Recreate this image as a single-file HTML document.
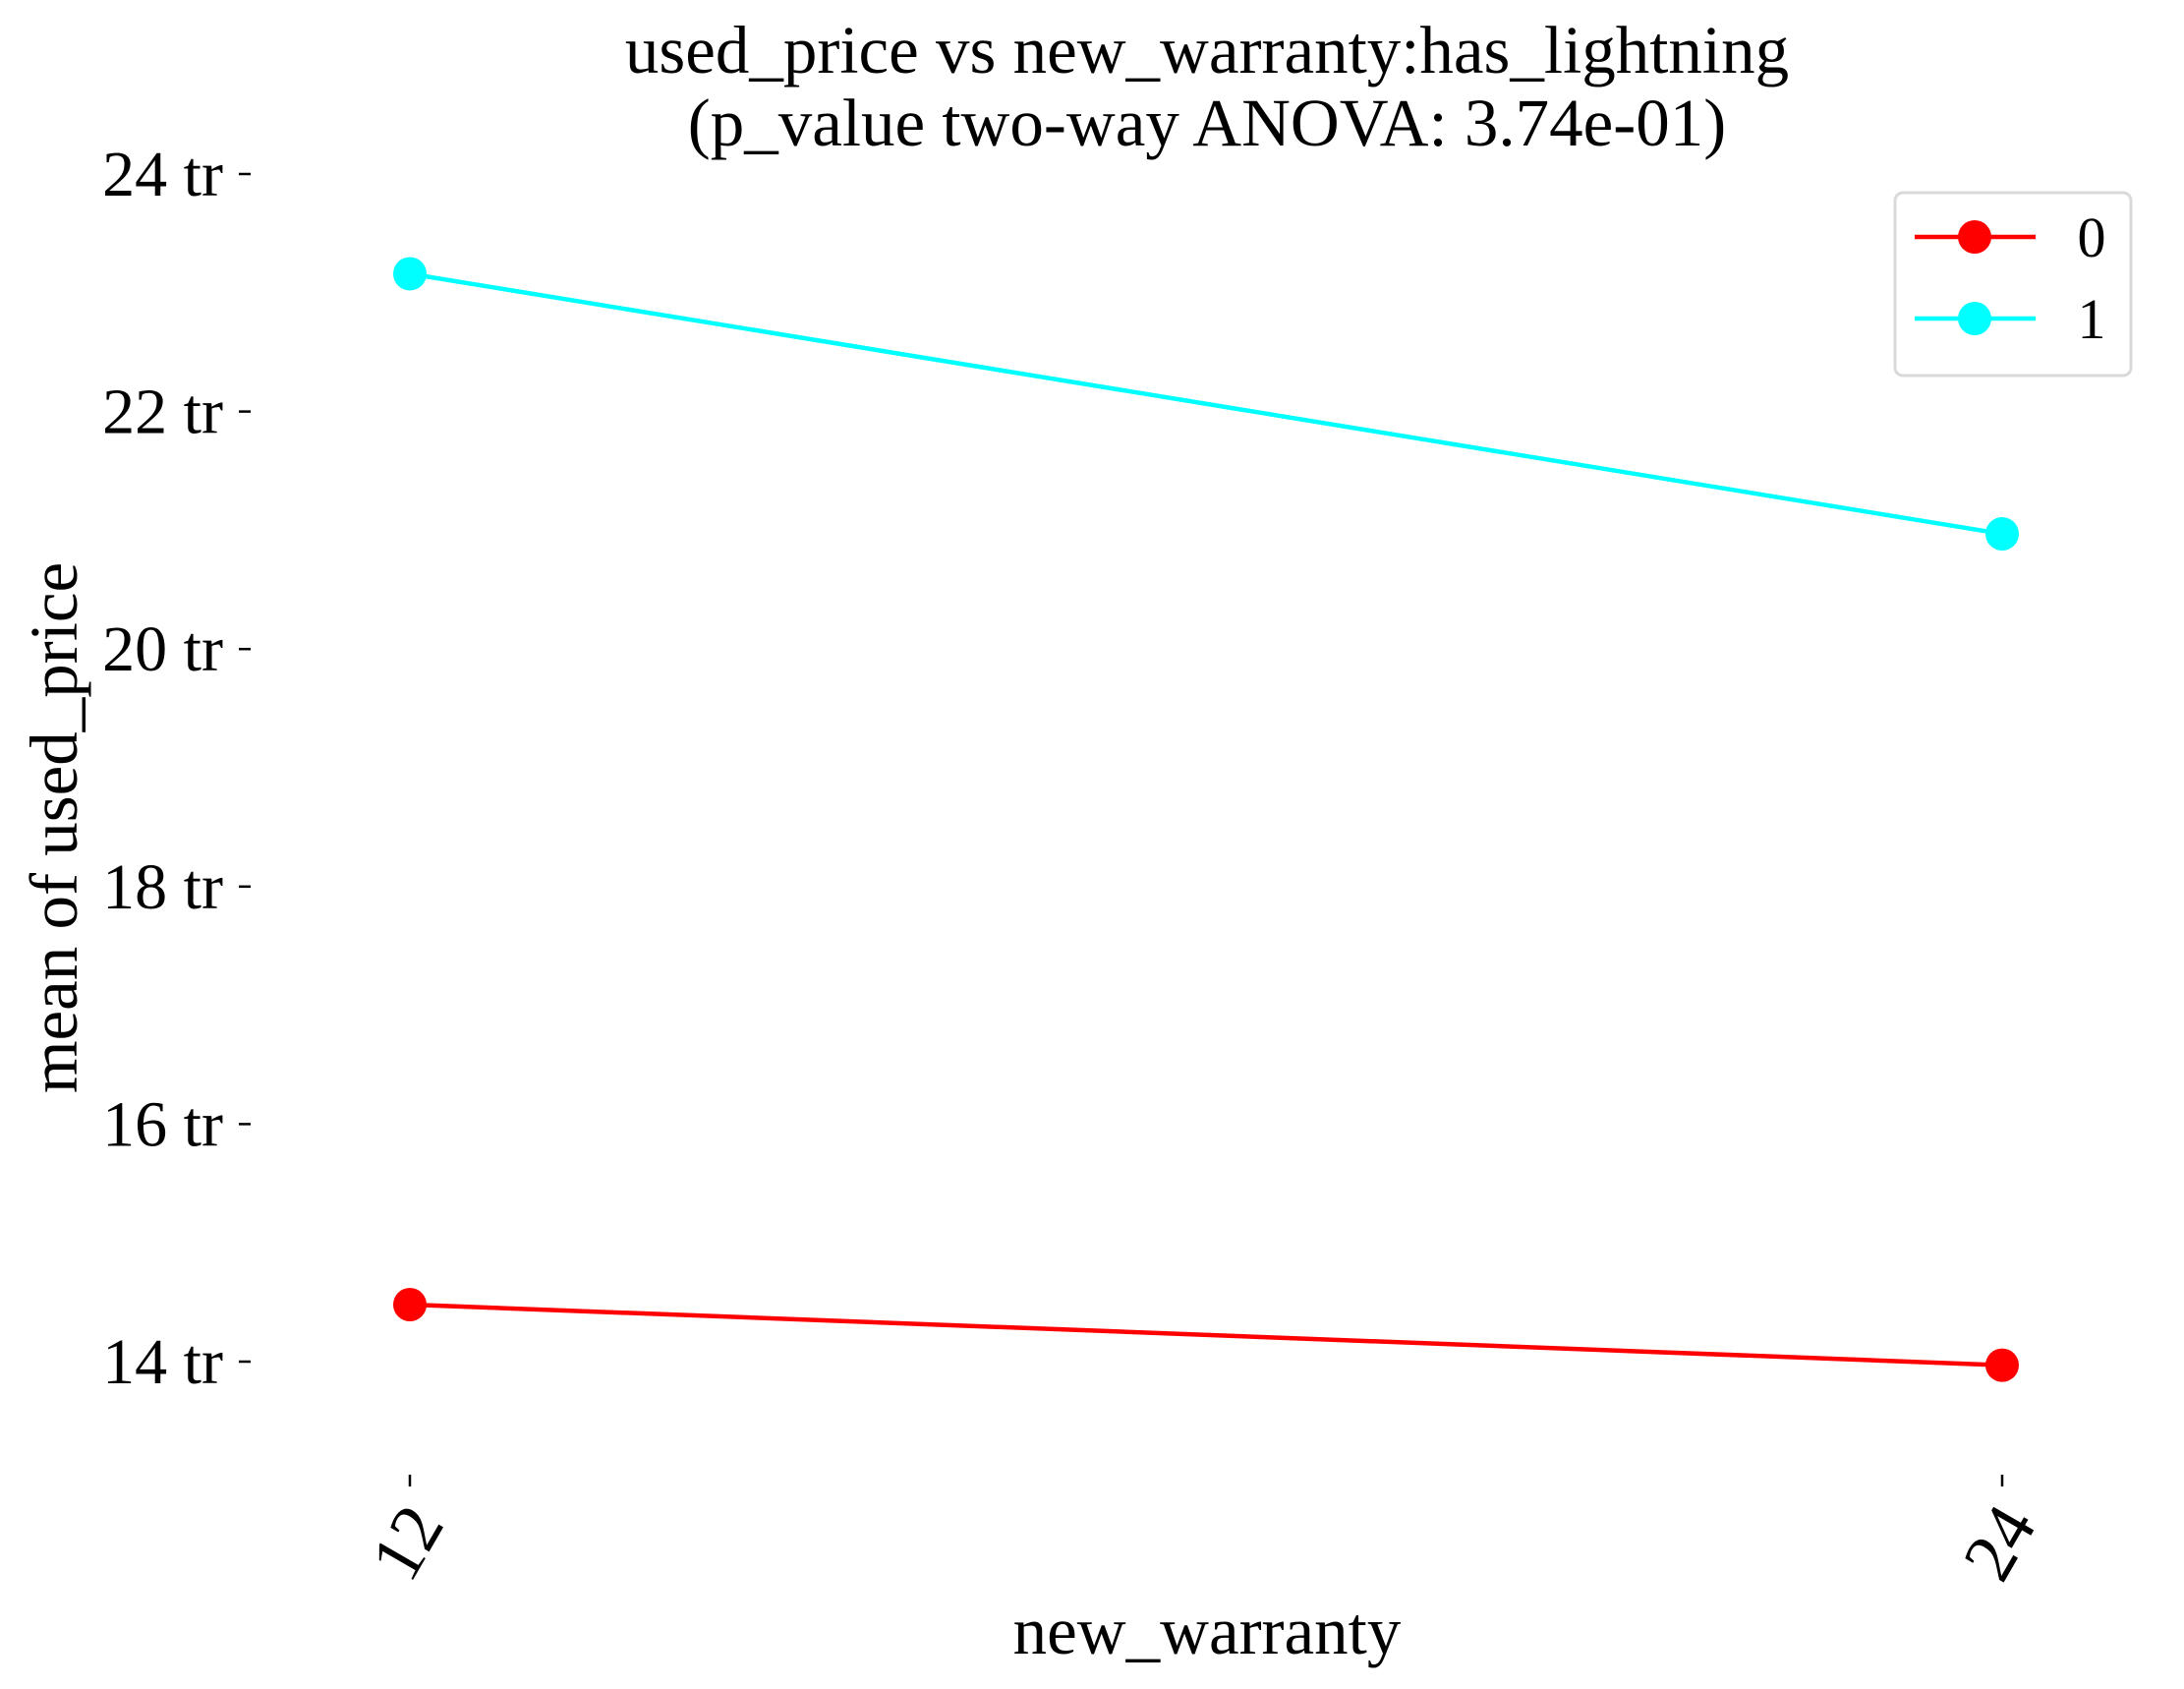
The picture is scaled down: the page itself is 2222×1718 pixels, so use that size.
<!DOCTYPE html>
<html><head><meta charset="utf-8"><style>
html,body{margin:0;padding:0;background:#fff}
svg{display:block;font-family:"Liberation Serif",serif}
</style></head><body>
<svg id="chart" width="2222" height="1718" viewBox="0 0 2222 1718">
<g id="g"></g>
</svg>
<script>
const categories = ["12","24"];
const seriesNames = ["0","1"];
const seriesColors = ["#ff0000","#00ffff"];
const series0 = [14.48, 13.97];
const series1 = [23.16, 20.97];
const yTicks = [14,16,18,20,22,24];
const yTickLabels = ["14 tr","16 tr","18 tr","20 tr","22 tr","24 tr"];

const NS="http://www.w3.org/2000/svg";
const g=document.getElementById('g');
function yS(v){return 177+(24-v)*120.8;}
function xS(i){return 417+i*(2037-417);}
function mk(tag,attrs,parent){const e=document.createElementNS(NS,tag);for(const k in attrs)e.setAttribute(k,attrs[k]);(parent||g).appendChild(e);return e;}

// title
let t=mk('text',{x:1228,y:74,'text-anchor':'middle','font-size':69});
t.textContent='used_price vs new_warranty:has_lightning';


t=mk('text',{x:1228,y:148,'text-anchor':'middle','font-size':69});
t.textContent='(p_value two-way ANOVA: 3.74e-01)';



// y ticks
yTicks.forEach((v,i)=>{
  const y=yS(v);
  const l=mk('line',{x1:243,x2:255,y1:y,y2:y,stroke:'#000','stroke-width':2.5});
  
  
  const tx=mk('text',{x:227,y:y+22,'text-anchor':'end','font-size':66});
  tx.textContent=yTickLabels[i];
  
  
});
// x ticks
categories.forEach((c,i)=>{
  const x=xS(i);
  const l=mk('line',{x1:x,x2:x,y1:1500,y2:1512,stroke:'#000','stroke-width':2.5});
  
  
  const tx=mk('text',{x:x+36,y:1550,'text-anchor':'end','font-size':72,transform:`rotate(-60 ${x+36} 1550)`});
  tx.textContent=c;
  
  
});
// axis titles
t=mk('text',{x:1228,y:1682,'text-anchor':'middle','font-size':69});
t.textContent='new_warranty';


t=mk('text',{x:0,y:0,'text-anchor':'middle','font-size':69,transform:'translate(78 842) rotate(-90)'});
t.textContent='mean of used_price';



// series
[series0,series1].forEach((s,si)=>{
  const pts=s.map((v,i)=>xS(i)+','+yS(v)).join(' ');
  const pl=mk('polyline',{points:pts,fill:'none',stroke:seriesColors[si],'stroke-width':4.5});
  
  
  s.forEach((v,i)=>{
    const c=mk('circle',{cx:xS(i),cy:yS(v),r:17,fill:seriesColors[si]});
    
    
  });
});

// legend
const lg=mk('g',{});


mk('rect',{x:1928,y:196,width:240,height:186,rx:8,fill:'#fff',stroke:'#d9d9d9','stroke-width':3},lg);
seriesNames.forEach((n,i)=>{
  const y=241+i*83;
  const e=mk('g',{},lg);
  
  
  mk('line',{x1:1948,x2:2071,y1:y,y2:y,stroke:seriesColors[i],'stroke-width':4.5},e);
  mk('circle',{cx:2009,cy:y,r:17,fill:seriesColors[i]},e);
  const tx=mk('text',{x:2128,y:y+20,'text-anchor':'middle','font-size':58},e);
  tx.textContent=n;
});
</script>
</body></html>
